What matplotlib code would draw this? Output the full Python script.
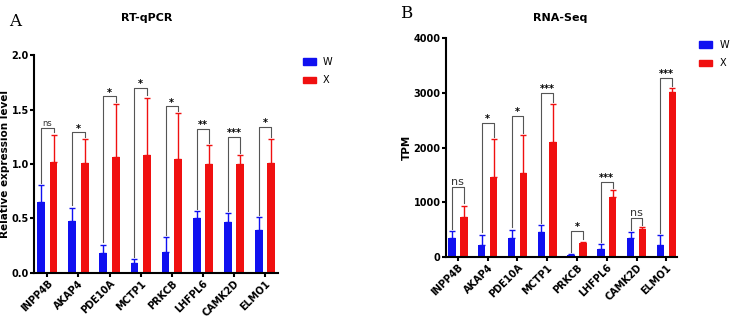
import numpy as np
import matplotlib
matplotlib.use("Agg")
import matplotlib.pyplot as plt
from matplotlib.patches import Patch

genes = ["INPP4B", "AKAP4", "PDE10A", "MCTP1", "PRKCB", "LHFPL6", "CAMK2D", "ELMO1"]

# RT-qPCR relative expression (mean, upper error tip)
qpcr_w = [0.65, 0.48, 0.18, 0.09, 0.19, 0.50, 0.47, 0.39]
qpcr_w_top = [0.81, 0.60, 0.26, 0.13, 0.33, 0.57, 0.55, 0.51]
qpcr_x = [1.02, 1.01, 1.06, 1.08, 1.05, 1.00, 1.00, 1.01]
qpcr_x_top = [1.27, 1.23, 1.55, 1.61, 1.47, 1.17, 1.08, 1.23]
qpcr_sig = ["ns", "*", "*", "*", "*", "**", "***", "*"]
qpcr_bracket = [1.33, 1.29, 1.62, 1.70, 1.53, 1.32, 1.25, 1.34]

# RNA-Seq TPM
rna_w = [350, 220, 340, 450, 30, 140, 340, 220]
rna_w_top = [470, 410, 500, 580, 45, 240, 450, 400]
rna_x = [730, 1460, 1530, 2100, 250, 1100, 510, 3010]
rna_x_top = [940, 2150, 2230, 2800, 280, 1220, 540, 3080]
rna_sig = ["ns", "*", "*", "***", "*", "***", "ns", "***"]
rna_bracket = [1280, 2450, 2575, 3000, 480, 1375, 710, 3275]

BLUE = "#1010f0"
RED = "#f01010"


def panel(ax, w, wtop, x, xtop, sig, brk, yticks, yticklabels, ylabel, gap, ns_size):
    pos = np.arange(len(genes))
    off = 0.2
    bw = 0.25
    ax.bar(pos - off, w, bw, color=BLUE)
    ax.bar(pos + off, x, bw, color=RED)
    ax.errorbar(pos - off, w, yerr=[np.zeros(len(w)), np.array(wtop) - np.array(w)],
                fmt="none", ecolor=BLUE, elinewidth=1, capsize=2, capthick=1)
    ax.errorbar(pos + off, x, yerr=[np.zeros(len(x)), np.array(xtop) - np.array(x)],
                fmt="none", ecolor=RED, elinewidth=1, capsize=2, capthick=1)

    # significance brackets
    for i in range(len(genes)):
        xl, xr = pos[i] - off, pos[i] + off
        ax.plot([xl, xl, xr, xr], [wtop[i] + gap, brk[i], brk[i], xtop[i] + gap],
                color="#555555", lw=0.8)
        if sig[i] == "ns":
            ax.text(pos[i], brk[i], "ns", ha="center", va="bottom", fontsize=ns_size,
                    color="#333333")
        else:
            ax.text(pos[i], brk[i] - gap * 0.6, sig[i], ha="center", va="bottom",
                    fontsize=7, fontweight="bold")

    ax.set_ylim(yticks[0], yticks[-1])
    ax.set_yticks(yticks)
    ax.set_yticklabels(yticklabels, fontweight="bold", fontsize=7)
    ax.set_xticks(pos)
    ax.set_xticklabels(genes, rotation=45, ha="right", rotation_mode="anchor",
                       fontsize=7, fontweight="bold")
    ax.set_ylabel(ylabel, fontsize=7.5, fontweight="bold", labelpad=1)
    for s in ["top", "right"]:
        ax.spines[s].set_visible(False)
    for s in ["left", "bottom"]:
        ax.spines[s].set_linewidth(1.5)
    ax.tick_params(width=1.5, length=3, pad=1)


def legend(anchor):
    fig.legend(handles=[Patch(color=BLUE, label="W"), Patch(color=RED, label="X")],
               loc="upper left", bbox_to_anchor=anchor, frameon=False,
               fontsize=7, handlelength=1.35, handleheight=0.6, handletextpad=0.7,
               labelspacing=0.85, borderpad=0, borderaxespad=0)


fig = plt.figure(figsize=(7.3, 3.2), dpi=100)
ax1 = fig.add_axes([0.047, 0.147, 0.334, 0.681])
ax2 = fig.add_axes([0.611, 0.197, 0.316, 0.684])

panel(ax1, qpcr_w, qpcr_w_top, qpcr_x, qpcr_x_top, qpcr_sig, qpcr_bracket,
      [0, 0.5, 1.0, 1.5, 2.0], ["0.0", "0.5", "1.0", "1.5", "2.0"],
      "Relative expression level", 0.02, 6)
ax1.set_xlim(-0.42, 7.42)

panel(ax2, rna_w, rna_w_top, rna_x, rna_x_top, rna_sig, rna_bracket,
      [0, 1000, 2000, 3000, 4000], ["0", "1000", "2000", "3000", "4000"],
      "TPM", 40, 8)
ax2.set_xlim(-0.4, 7.35)

legend((0.415, 0.822))
legend((0.958, 0.875))

fig.text(0.201, 0.945, "RT-qPCR", ha="center", va="center", fontsize=8, fontweight="bold")
fig.text(0.768, 0.945, "RNA-Seq", ha="center", va="center", fontsize=8, fontweight="bold")
fig.text(0.012, 0.92, "A", fontsize=12, family="DejaVu Serif")
fig.text(0.548, 0.945, "B", fontsize=12, family="DejaVu Serif")

fig.savefig("out.png", dpi=100)
